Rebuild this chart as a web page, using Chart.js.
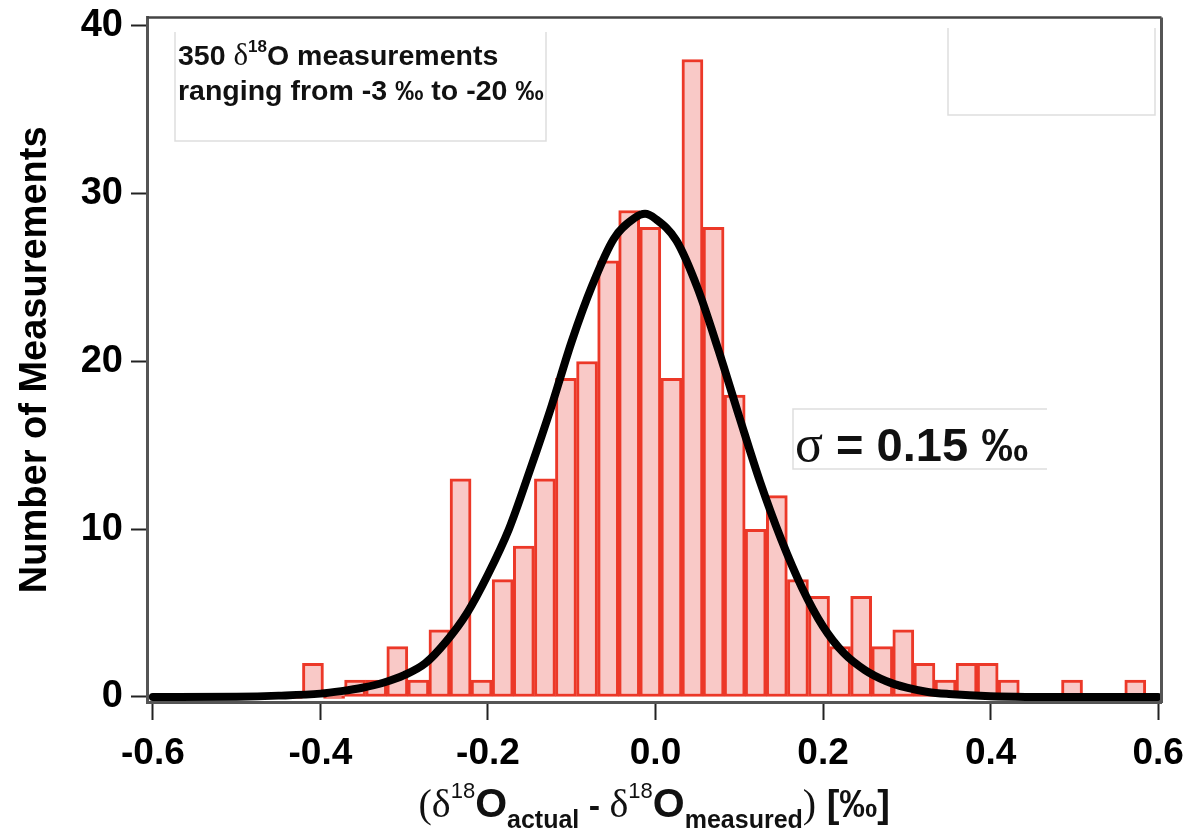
<!DOCTYPE html>
<html>
<head>
<meta charset="utf-8">
<script src="https://cdn.jsdelivr.net/npm/chart.js@4/dist/chart.umd.min.js"></script>
<style>
  html, body { margin: 0; padding: 0; background: #fff; }
  #wrap { width: 1188px; height: 835px; }
</style>
</head>
<body>
<div id="wrap"><canvas id="hist" width="1188" height="835"></canvas></div>
<script>
// histogram bins (centre of each bin, per mil)
const binCenters = [
  -0.5851, -0.5599, -0.5348, -0.5096, -0.4844, -0.4593, -0.4341,
  -0.4089, -0.3837, -0.3586, -0.3334, -0.3082, -0.2831, -0.2579, -0.2327,
  -0.2076, -0.1824, -0.1572, -0.1320, -0.1069, -0.0817, -0.0565, -0.0314,
  -0.0062, 0.0190, 0.0441, 0.0693, 0.0945, 0.1196, 0.1448, 0.1700,
  0.1952, 0.2203, 0.2455, 0.2707, 0.2958, 0.3210, 0.3462, 0.3713,
  0.3965, 0.4217, 0.4469, 0.4720, 0.4972, 0.5224, 0.5475, 0.5727
];
const counts = [
  0, 0, 0, 0, 0, 0, 0,
  2, 0, 1, 1, 3, 1, 4, 13,
  1, 7, 9, 13, 19, 20, 26, 29,
  28, 19, 38, 28, 18, 10, 12, 7,
  6, 3, 6, 3, 4, 2, 1, 2,
  2, 1, 0, 0, 1, 0, 0, 1
];

// gaussian fit
const fitX = [-0.6, -0.5, -0.45, -0.4, -0.375, -0.35, -0.325, -0.3, -0.275, -0.25,
  -0.225, -0.2, -0.175, -0.15, -0.125, -0.1, -0.075, -0.05, -0.025, -0.0125, 0,
  0.025, 0.05, 0.075, 0.1, 0.125, 0.15, 0.175, 0.2, 0.225, 0.25,
  0.275, 0.3, 0.325, 0.35, 0.4, 0.5, 0.6];
const fitY = [0, 0.02, 0.08, 0.2, 0.35, 0.55, 0.85, 1.3, 2.0, 3.3,
  5.0, 7.3, 10.0, 13.5, 17.2, 21.2, 24.6, 27.3, 28.55, 28.8, 28.5,
  27.2, 24.4, 20.7, 16.7, 12.8, 9.4, 6.5, 4.2, 2.6, 1.6,
  0.95, 0.55, 0.3, 0.18, 0.05, 0, 0];

const xTicks = [-0.6, -0.4, -0.2, 0.0, 0.2, 0.4, 0.6];
const yTicks = [0, 10, 20, 30, 40];

const SANS = '"Liberation Sans", Arial, sans-serif';
const SERIF = '"Liberation Serif", "Times New Roman", serif';

function drawRuns(ctx, runs, x0, baseY, center) {
  let w = 0;
  runs.forEach(r => { ctx.font = r.f; r.w = ctx.measureText(r.t).width; w += r.w; });
  let x = center ? x0 - w / 2 : x0;
  runs.forEach(r => {
    ctx.font = r.f;
    ctx.fillText(r.t, x, baseY + (r.dy || 0));
    x += r.w;
  });
}

const extras = {
  id: 'extras',
  afterDraw(chart) {
    const ctx = chart.ctx;
    const a = chart.chartArea;
    ctx.save();

    // frame top + right
    ctx.strokeStyle = '#444';
    ctx.lineWidth = 2.5;
    ctx.beginPath();
    ctx.moveTo(a.left, a.top);
    ctx.lineTo(a.right, a.top);
    ctx.stroke();
    ctx.strokeStyle = '#555';
    ctx.lineWidth = 3;
    ctx.beginPath();
    ctx.moveTo(a.right, a.top);
    ctx.lineTo(a.right, a.bottom + 1);
    ctx.stroke();

    // annotation boxes (light grey, open top)
    ctx.strokeStyle = '#dedede';
    ctx.lineWidth = 1.5;
    ctx.beginPath();
    ctx.moveTo(175, 32); ctx.lineTo(175, 141); ctx.lineTo(546, 141); ctx.lineTo(546, 32);
    ctx.moveTo(948, 28); ctx.lineTo(948, 115); ctx.lineTo(1155, 115); ctx.lineTo(1155, 28);
    ctx.stroke();
    ctx.beginPath();
    ctx.moveTo(1047, 409); ctx.lineTo(793, 409); ctx.lineTo(793, 469); ctx.lineTo(1047, 469);
    ctx.stroke();

    ctx.fillStyle = '#111';
    ctx.textBaseline = 'alphabetic';
    ctx.textAlign = 'left';

    drawRuns(ctx, [
      { t: '350 ', f: 'bold 28.5px ' + SANS },
      { t: 'δ', f: '31px ' + SERIF },
      { t: '18', f: 'bold 17px ' + SANS, dy: -13 },
      { t: 'O measurements', f: 'bold 28.5px ' + SANS }
    ], 178, 65, false);
    drawRuns(ctx, [
      { t: 'ranging from -3 ‰ to -20 ‰', f: 'bold 28.5px ' + SANS }
    ], 178, 100, false);

    drawRuns(ctx, [
      { t: 'σ', f: '52px ' + SERIF },
      { t: ' = 0.15 ‰', f: 'bold 47px ' + SANS }
    ], 795, 461, false);

    // x axis title
    const cx = (a.left + a.right) / 2;
    drawRuns(ctx, [
      { t: '(', f: '40px ' + SERIF },
      { t: 'δ', f: '40px ' + SERIF },
      { t: '18', f: '22px ' + SANS, dy: -19 },
      { t: 'O', f: 'bold 41px ' + SANS },
      { t: 'actual', f: 'bold 25px ' + SANS, dy: 11 },
      { t: ' - ', f: 'bold 34px ' + SANS },
      { t: 'δ', f: '40px ' + SERIF },
      { t: '18', f: '22px ' + SANS, dy: -19 },
      { t: 'O', f: 'bold 41px ' + SANS },
      { t: 'measured', f: 'bold 25px ' + SANS, dy: 11 },
      { t: ')', f: '40px ' + SERIF },
      { t: ' [‰]', f: 'bold 38px ' + SANS }
    ], cx, 817, true);

    ctx.restore();
  }
};

new Chart(document.getElementById('hist'), {
  type: 'bar',
  data: {
    datasets: [
      {
        type: 'line',
        data: fitX.map((x, i) => ({ x: x, y: fitY[i] })),
        borderColor: '#000',
        borderWidth: 8,
        pointRadius: 0,
        cubicInterpolationMode: 'monotone',
        borderCapStyle: 'round',
        borderJoinStyle: 'round',
        order: 0
      },
      {
        type: 'bar',
        data: binCenters.map((x, i) => ({ x: x, y: counts[i] })),
        backgroundColor: 'rgb(249, 201, 199)',
        borderColor: 'rgb(236, 56, 40)',
        borderWidth: 3,
        borderSkipped: false,
        minBarLength: 3,
        barPercentage: 1,
        categoryPercentage: 1,
        order: 1
      }
    ]
  },
  options: {
    responsive: false,
    animation: false,
    events: [],
    layout: { padding: { top: 17.6, right: 26.5, left: 0, bottom: 0 } },
    plugins: {
      legend: { display: false },
      tooltip: { enabled: false }
    },
    scales: {
      x: {
        type: 'linear',
        min: -0.607,
        max: 0.604,
        offset: false,
        afterFit: (s) => { s.height = 133; s.paddingLeft = 0; s.paddingRight = 0; },
        afterBuildTicks: (s) => { s.ticks = xTicks.map(v => ({ value: v })); },
        ticks: {
          includeBounds: false,
          autoSkip: false,
          maxRotation: 0,
          padding: 12,
          color: '#000',
          font: { family: SANS, size: 37, weight: 'bold' },
          callback: (v) => Number(v).toFixed(1)
        },
        grid: {
          offset: false,
          drawOnChartArea: false,
          drawTicks: true,
          tickLength: 18,
          tickWidth: 2,
          tickColor: '#222'
        },
        border: { display: true, color: '#555', width: 3 }
      },
      y: {
        min: -0.3,
        max: 40.5,
        afterFit: (s) => { s.width = 147; s.paddingTop = 0; s.paddingBottom = 0; },
        afterBuildTicks: (s) => { s.ticks = yTicks.map(v => ({ value: v })); },
        ticks: {
          padding: 8,
          color: '#000',
          font: { family: SANS, size: 38, weight: 'bold' }
        },
        grid: {
          drawOnChartArea: false,
          drawTicks: true,
          tickLength: 16,
          tickWidth: 2,
          tickColor: '#222'
        },
        border: { display: true, color: '#555', width: 3 },
        title: {
          display: true,
          text: 'Number of Measurements',
          color: '#000',
          padding: { top: 13, bottom: 0 },
          font: { family: SANS, size: 38, weight: 'bold', lineHeight: 1.2 }
        }
      }
    }
  },
  plugins: [extras]
});
</script>
</body>
</html>
